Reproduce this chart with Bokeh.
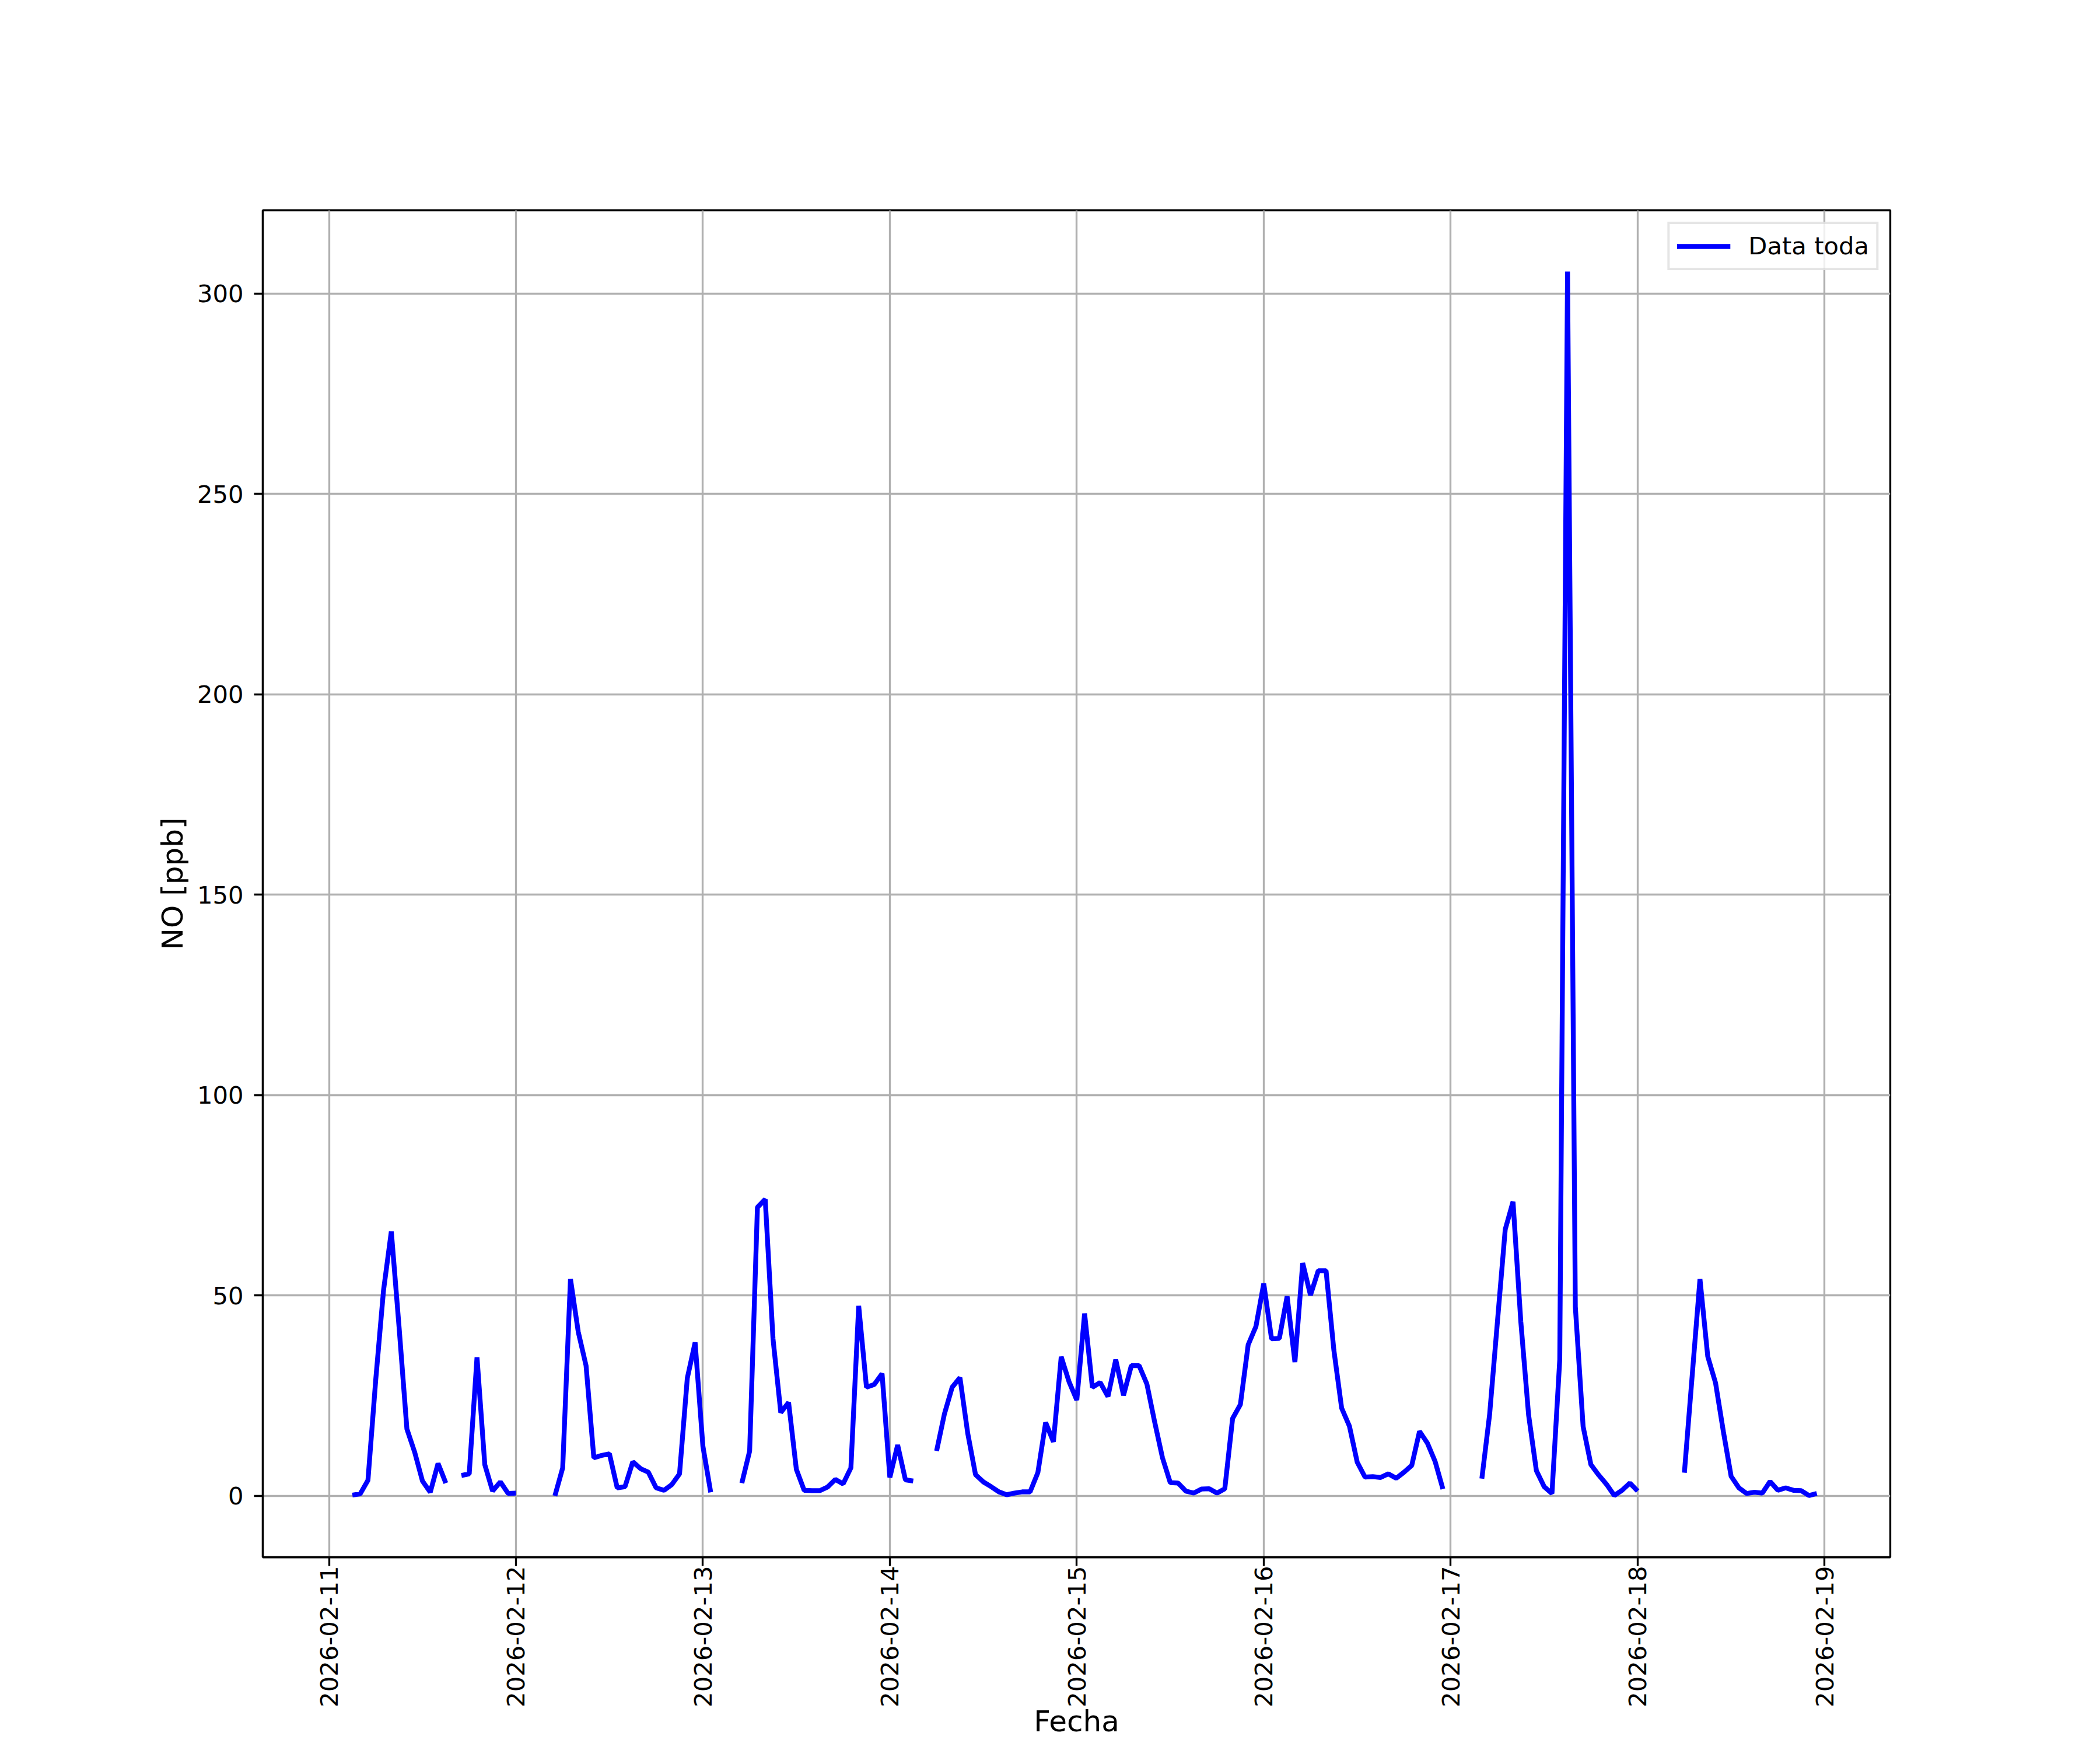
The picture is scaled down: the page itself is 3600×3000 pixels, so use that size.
import math
import numpy as np
import pandas as pd
from bokeh.plotting import figure
from bokeh.models import Range1d, FixedTicker, DatetimeTickFormatter
from bokeh.embed import file_html
from bokeh.resources import INLINE

nan = np.nan

# hourly NO readings starting 2026-02-11 00:00 (NaN = missing)
start_time = "2026-02-11 00:00"
no_ppb = [
    nan, nan, nan, 0.2, 0.5, 3.9, 29.0, 51.3, 66.0, 42.0, 16.7, 10.9,   # 11 00-11
    3.7, 0.9, 8.1, 3.2, nan, 5.1, 5.5, 34.6, 7.8, 1.2, 3.5, 0.6,         # 11 12-23
    0.7, nan, nan, nan, nan, 0.0, 7.0, 54.1, 40.9, 32.5, 9.5, 10.1,      # 12 00-11
    10.5, 2.0, 2.3, 8.5, 6.8, 5.9, 2.0, 1.4, 2.8, 5.5, 29.4, 38.3,       # 12 12-23
    12.4, 0.9, nan, nan, nan, 3.2, 11.2, 72.0, 74.0, 39.2, 20.8, 23.3,   # 13 00-11
    6.6, 1.4, 1.3, 1.3, 2.2, 4.1, 3.0, 7.0, 47.4, 27.1, 27.8, 30.5,      # 13 12-23
    4.6, 12.7, 4.0, 3.7, nan, nan, 11.2, 20.4, 27.1, 29.5, 15.6, 5.3,    # 14 00-11
    3.5, 2.3, 1.0, 0.3, 0.7, 1.0, 1.0, 5.8, 18.3, 13.5, 34.7, 28.5,      # 14 12-23
    23.9, 45.5, 27.1, 28.3, 24.8, 34.0, 25.1, 32.5, 32.5, 27.9, 18.4, 9.5,  # 15 00-11
    3.3, 3.2, 1.2, 0.7, 1.7, 1.8, 0.7, 1.8, 19.3, 22.8, 37.7, 42.3,      # 15 12-23
    53.0, 39.2, 39.3, 49.8, 33.4, 58.1, 50.1, 56.2, 56.2, 36.4, 21.9, 17.4,  # 16 00-11
    8.4, 4.7, 4.8, 4.6, 5.5, 4.4, 5.9, 7.6, 16.1, 13.2, 8.6, 1.7,        # 16 12-23
    nan, nan, nan, nan, 4.3, 20.4, 43.5, 66.5, 73.4, 43.5, 20.2, 6.3,    # 17 00-11
    2.3, 0.6, 34.0, 305.5, 47.2, 17.3, 7.8, 5.2, 2.9, 0.1, 1.4, 3.2,     # 17 12-23
    1.2, nan, nan, nan, nan, nan, 5.8, 30.0, 54.1, 34.8, 28.2, 16.1,     # 18 00-11
    4.9, 2.0, 0.6, 0.9, 0.7, 3.6, 1.4, 2.0, 1.4, 1.3, 0.1, 0.6,          # 18 12-23
]
times = pd.date_range(start_time, periods=len(no_ppb), freq="h")

x_tick_labels = ["2026-02-11", "2026-02-12", "2026-02-13", "2026-02-14", "2026-02-15",
                 "2026-02-16", "2026-02-17", "2026-02-18", "2026-02-19"]
y_ticks = [0, 50, 100, 150, 200, 250, 300]
x_limits = ["2026-02-10 15:30", "2026-02-19 08:26"]
y_limits = [-15.3, 320.8]
x_title = "Fecha"
y_title = "NO [ppb]"

def ms(t):
    return pd.Timestamp(t).value / 1e6

FONT = "DejaVu Sans"

p = figure(width=3584, height=2984, output_backend="svg", toolbar_location=None,
           x_axis_type="datetime",
           x_range=Range1d(ms(x_limits[0]), ms(x_limits[1])),
           y_range=Range1d(y_limits[0], y_limits[1]),
           min_border_left=450, min_border_right=344,
           min_border_top=360, min_border_bottom=315,
           background_fill_color="white", border_fill_color="white")

p.line(times, no_ppb, line_color="#0000ff", line_width=8.3, legend_label="Data toda")

p.xaxis.ticker = FixedTicker(ticks=[ms(t) for t in x_tick_labels])
fmt = "%Y-%m-%d"
p.xaxis.formatter = DatetimeTickFormatter(days=fmt, months=fmt, hours=fmt, years=fmt,
                                          minutes=fmt, hourmin=fmt, seconds=fmt)
p.yaxis.ticker = FixedTicker(ticks=y_ticks)
p.xaxis.major_label_orientation = math.pi / 2

p.xaxis.axis_label = x_title
p.yaxis.axis_label = y_title

for ax in (p.xaxis, p.yaxis):
    ax.axis_line_color = "black"
    ax.axis_line_width = 3.3
    ax.major_tick_line_color = "black"
    ax.major_tick_line_width = 3.3
    ax.major_tick_out = 15
    ax.major_tick_in = 0
    ax.minor_tick_line_color = None
    ax.major_label_text_font = FONT
    ax.major_label_text_font_size = "41.7px"
    ax.major_label_text_color = "black"
    ax.axis_label_text_font = FONT
    ax.axis_label_text_font_size = "50px"
    ax.axis_label_text_font_style = "normal"
    ax.axis_label_text_color = "black"
    ax.axis_label_text_line_height = 1.0
    ax.major_label_text_line_height = 1.0

p.xaxis.major_label_standoff = 0
p.xaxis.axis_label_standoff = -8
p.yaxis.major_label_standoff = 18
p.yaxis.axis_label_standoff = 10

p.xgrid.grid_line_color = "#b0b0b0"
p.ygrid.grid_line_color = "#b0b0b0"
p.xgrid.grid_line_width = 3.3
p.ygrid.grid_line_width = 3.3

p.outline_line_color = "black"
p.outline_line_width = 3.3

lg = p.legend[0]
lg.location = "top_right"
lg.margin = 20
lg.padding = 12
lg.spacing = 0
lg.glyph_width = 92
lg.glyph_height = 40
lg.label_standoff = 31
lg.label_height = 51
lg.label_text_font = FONT
lg.label_text_font_size = "41.7px"
lg.label_text_color = "black"
lg.border_line_color = "#cccccc"
lg.border_line_width = 4
lg.background_fill_color = "white"
lg.background_fill_alpha = 0.8

open("out.html", "w").write(file_html(p, INLINE))
